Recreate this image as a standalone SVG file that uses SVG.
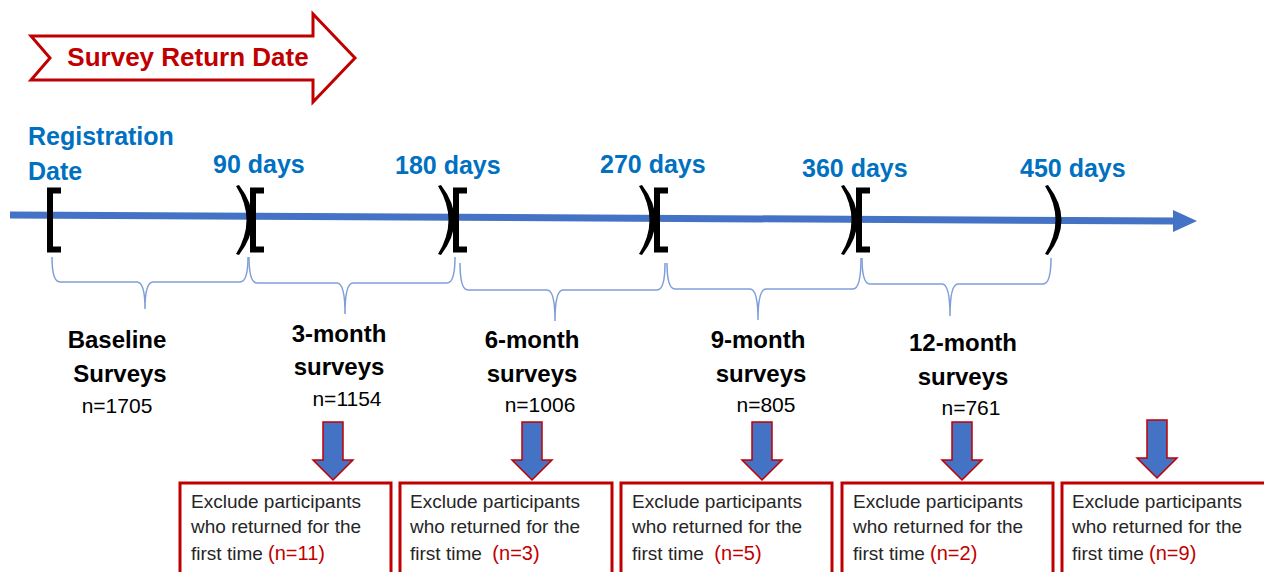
<svg xmlns="http://www.w3.org/2000/svg" width="1264" height="572" viewBox="0 0 1264 572">
<style>
.blue{font-family:"Liberation Sans",Arial,sans-serif;font-weight:bold;font-size:25px;fill:#0070C0}
.lbl{font-family:"Liberation Sans",Arial,sans-serif;font-weight:bold;font-size:24px;fill:#000;text-anchor:middle}
.num{font-family:"Liberation Sans",Arial,sans-serif;font-size:21px;fill:#000;text-anchor:middle}
.bx{fill:#fff;stroke:#C00000;stroke-width:3}
.bt{font-family:"Liberation Sans",Arial,sans-serif;font-size:19px;fill:#262626}
.red{fill:#C00000;font-size:20px}
.brace{fill:none;stroke:#7F9ED8;stroke-width:1.5}
.dn{fill:#4472C4;stroke:#C00000;stroke-width:1.5}
.sq{fill:none;stroke:#000;stroke-width:6}
.par{fill:#000}
</style>
<defs>
<path id="paren" d="M1,186 L4,185 Q31,220 4,255 L1,254 Q22,220 1,186 Z"/>
<path id="sqb" d="M11,190.5 H0 V249.5 H11"/>
</defs>
<g id="title">
<path d="M31,36 L313,36 L313,14 L355,58 L313,102 L313,80 L31,80 L50,58 Z" fill="#fff" stroke="#C00000" stroke-width="3"/>
<text x="188" y="66" text-anchor="middle" font-family="Liberation Sans,Arial,sans-serif" font-weight="bold" font-size="26" fill="#C00000">Survey Return Date</text>
</g>
<g id="connectors">
<path d="M10,215 L1175,221" stroke="#4472C4" stroke-width="7" fill="none"/>
<polygon points="1173,210 1197,221 1173,232" fill="#4472C4"/>
<path class="brace" d="M52,257 Q52,282 60,282 L137,282 Q145,282 145,309 Q145,282 153,282 L240,282 Q248,282 248,257"/>
<path class="brace" d="M249,257 Q249,283 257,283 L337,283 Q345,283 345,314 Q345,283 353,283 L447,283 Q455,283 455,257"/>
<path class="brace" d="M460,263 Q460,290 468,290 L547,290 Q555,290 555,321 Q555,290 563,290 L657,290 Q665,290 665,263"/>
<path class="brace" d="M667,263 Q667,289 675,289 L750,289 Q758,289 758,320 Q758,289 766,289 L853,289 Q861,289 861,258"/>
<path class="brace" d="M862,258 Q862,284 870,284 L942,284 Q950,284 950,316 Q950,284 958,284 L1043,284 Q1051,284 1051,258"/>
<path class="dn" d="M323,422 H343 V460 H353 L333,480 L313,460 H323 Z"/>
<path class="dn" d="M522,422 H542 V460 H552 L532,480 L512,460 H522 Z"/>
<path class="dn" d="M752,422 H772 V460 H782 L762,480 L742,460 H752 Z"/>
<path class="dn" d="M952,422 H972 V460 H982 L962,480 L942,460 H952 Z"/>
<path class="dn" d="M1147,420 H1167 V458 H1177 L1157,478 L1137,458 H1147 Z"/>
</g>
<g id="brackets">
<use href="#sqb" class="sq" x="50"/>
<use href="#paren" class="par" x="235"/>
<use href="#sqb" class="sq" x="253"/>
<use href="#paren" class="par" x="437"/>
<use href="#sqb" class="sq" x="456"/>
<use href="#paren" class="par" x="638"/>
<use href="#sqb" class="sq" x="657"/>
<use href="#paren" class="par" x="840"/>
<use href="#sqb" class="sq" x="859"/>
<use href="#paren" class="par" x="1044"/>
</g>
<g id="day-labels">
<text class="blue" x="28" y="145">Registration</text>
<text class="blue" x="28" y="180">Date</text>
<text class="blue" x="213" y="173">90 days</text>
<text class="blue" x="395" y="174">180 days</text>
<text class="blue" x="600" y="173">270 days</text>
<text class="blue" x="802" y="177">360 days</text>
<text class="blue" x="1020" y="177">450 days</text>
</g>
<g id="baseline">
<text class="lbl" x="117" y="348">Baseline</text>
<text class="lbl" x="120" y="382">Surveys</text>
<text class="num" x="117" y="413">n=1705</text>
</g>
<g id="m3">
<text class="lbl" x="339" y="342">3-month</text>
<text class="lbl" x="339" y="375">surveys</text>
<text class="num" x="347" y="406">n=1154</text>
</g>
<g id="m6">
<text class="lbl" x="532" y="348">6-month</text>
<text class="lbl" x="532" y="382">surveys</text>
<text class="num" x="540" y="412">n=1006</text>
</g>
<g id="m9">
<text class="lbl" x="758" y="348">9-month</text>
<text class="lbl" x="761" y="382">surveys</text>
<text class="num" x="766" y="412">n=805</text>
</g>
<g id="m12">
<text class="lbl" x="963" y="351">12-month</text>
<text class="lbl" x="963" y="385">surveys</text>
<text class="num" x="971" y="415">n=761</text>
</g>
<g id="ex1">
<rect class="bx" x="180" y="483" width="211" height="100"/>
<text class="bt" x="191" y="508">Exclude participants</text>
<text class="bt" x="191" y="533">who returned for the</text>
<text class="bt" x="191" y="560" xml:space="preserve">first time <tspan class="red">(n=11)</tspan></text>
</g>
<g id="ex2">
<rect class="bx" x="400" y="483" width="212" height="100"/>
<text class="bt" x="410" y="508">Exclude participants</text>
<text class="bt" x="410" y="533">who returned for the</text>
<text class="bt" x="410" y="560" xml:space="preserve">first time  <tspan class="red">(n=3)</tspan></text>
</g>
<g id="ex3">
<rect class="bx" x="621" y="483" width="211" height="100"/>
<text class="bt" x="632" y="508">Exclude participants</text>
<text class="bt" x="632" y="533">who returned for the</text>
<text class="bt" x="632" y="560" xml:space="preserve">first time  <tspan class="red">(n=5)</tspan></text>
</g>
<g id="ex4">
<rect class="bx" x="842" y="483" width="211" height="100"/>
<text class="bt" x="853" y="508">Exclude participants</text>
<text class="bt" x="853" y="533">who returned for the</text>
<text class="bt" x="853" y="560" xml:space="preserve">first time <tspan class="red">(n=2)</tspan></text>
</g>
<g id="ex5">
<rect class="bx" x="1062" y="483" width="220" height="100"/>
<text class="bt" x="1072" y="508">Exclude participants</text>
<text class="bt" x="1072" y="533">who returned for the</text>
<text class="bt" x="1072" y="560" xml:space="preserve">first time <tspan class="red">(n=9)</tspan></text>
</g>
</svg>
